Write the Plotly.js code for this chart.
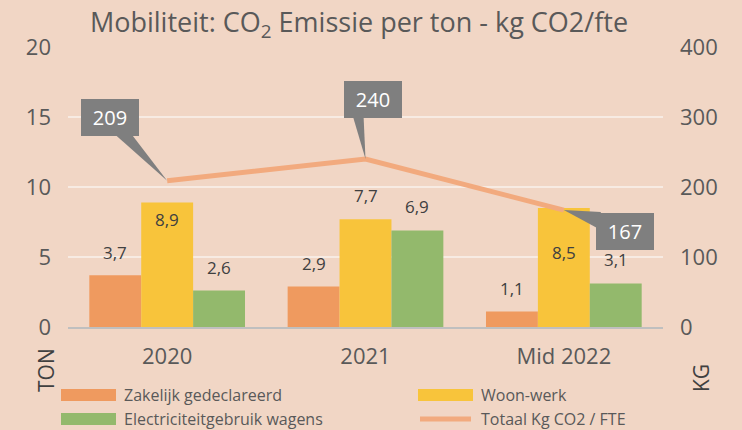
<!DOCTYPE html>
<html>
<head>
<meta charset="utf-8">
<script src="https://cdn.plot.ly/plotly-3.0.1.min.js"></script>
<style>
html,body{margin:0;padding:0;background:#F1D6C5;}
#chart{width:742px;height:430px;}
</style>
</head>
<body>
<div id="chart"></div>
<script>
// ---- data ----
const categories = ['2020', '2021', 'Mid 2022'];
const zakelijk = [3.7, 2.9, 1.1];
const woonWerk = [8.9, 7.7, 8.5];
const elektriciteit = [2.6, 6.9, 3.1];
const totaalKg = [209, 240, 167];
const seriesNames = ['Zakelijk gedeclareerd', 'Woon-werk', 'Electriciteitgebruik wagens', 'Totaal Kg CO2 / FTE'];
const yTickVals = [0, 5, 10, 15, 20];
const y2TickVals = [0, 100, 200, 300, 400];

// ---- style ----
const W = 742, H = 430;
const M = {l: 68, r: 79, t: 47, b: 103};
const plotW = W - M.l - M.r, plotH = H - M.t - M.b;
const bargap = 0.215;
const colors = ['#EF9A5F', '#F8C43B', '#93B96C', '#F2AA7E'];
const txt = '#595959';
const font = '"Open Sans", Lato, sans-serif';
const barPx = (plotW / categories.length) * (1 - bargap) / 3;
const fmt = v => v.toString().replace('.', ',');
const px2x = p => (p - M.l) / plotW;
const px2y = p => (H - M.b - p) / plotH;

const barSeries = [zakelijk, woonWerk, elektriciteit];
const traces = barSeries.map((vals, i) => ({
  type: 'bar', x: categories, y: vals, name: seriesNames[i],
  marker: {color: colors[i]}, showlegend: false, hoverinfo: 'skip'
}));
traces.push({
  type: 'scatter', mode: 'lines', x: categories, y: totaalKg, yaxis: 'y2',
  name: seriesNames[3], line: {color: colors[3], width: 5}, showlegend: false, hoverinfo: 'skip'
});

// label vertical shifts (pixels) per series / category; x given as category index
const labelShift = [[23, 23, 23], [-17, 24, -44], [23, 24, 24]];
const annotations = [];
barSeries.forEach((vals, i) => {
  vals.forEach((v, j) => {
    annotations.push({
      x: j, y: v, xref: 'x', yref: 'y', showarrow: false,
      xshift: (i - 1) * barPx, yshift: labelShift[i][j],
      text: fmt(v), font: {family: font, size: 17, color: '#404040'}
    });
  });
});

// callouts for total line
const calloutShift = [[-57, 63], [7, 60], [61, -21]];
const wedges = [
  'M0,0 L-53,47 L-36,47 Z',
  'M0,0 L-13,44 L-2,44 Z',
  'M0,0 L37,-2 L37,-20 Z'
];
const shapes = [];
totaalKg.forEach((v, j) => {
  annotations.push({
    x: j, y: v, xref: 'x', yref: 'y2', showarrow: false,
    xshift: calloutShift[j][0], yshift: calloutShift[j][1],
    width: 54, height: 33, bgcolor: '#7F7F7F', borderpad: 2, borderwidth: 0,
    text: String(v), font: {family: font, size: 20, color: '#FFFFFF'},
    align: 'center', valign: 'middle'
  });
  shapes.push({
    type: 'path', xref: 'x', yref: 'y2', xsizemode: 'pixel', ysizemode: 'pixel',
    xanchor: j, yanchor: v, path: wedges[j],
    fillcolor: '#7F7F7F', line: {width: 0}, layer: 'above'
  });
});

// axis titles placed under the plot like the reference
annotations.push({xref: 'paper', yref: 'paper', x: px2x(46), y: px2y(370), xanchor: 'center', yanchor: 'middle',
  text: 'TON', textangle: -90, showarrow: false, font: {family: font, size: 21, color: '#404040'}});
annotations.push({xref: 'paper', yref: 'paper', x: px2x(701), y: px2y(378), xanchor: 'center', yanchor: 'middle',
  text: 'KG', textangle: -90, showarrow: false, font: {family: font, size: 21, color: '#404040'}});

// custom legend
const legendPos = [[61, 395], [418, 395], [61, 419], [418, 419]];
seriesNames.forEach((name, i) => {
  const [lx, ly] = legendPos[i];
  if (i < 3) {
    shapes.push({type: 'rect', xref: 'paper', yref: 'paper',
      x0: px2x(lx), x1: px2x(lx + 55), y0: px2y(ly + 6), y1: px2y(ly - 6),
      fillcolor: colors[i], line: {width: 0}});
  } else {
    shapes.push({type: 'line', xref: 'paper', yref: 'paper',
      x0: px2x(lx + 2), x1: px2x(lx + 53), y0: px2y(ly), y1: px2y(ly),
      line: {color: colors[i], width: 5}});
  }
  annotations.push({xref: 'paper', yref: 'paper', x: px2x(lx + 61), y: px2y(ly),
    xanchor: 'left', yanchor: 'middle', showarrow: false, text: name,
    font: {family: font, size: 16, color: txt}});
});

const layout = {
  width: W, height: H, margin: M,
  paper_bgcolor: '#F1D6C5', plot_bgcolor: '#F1D6C5',
  font: {family: font, color: txt},
  title: {text: 'Mobiliteit: CO<sub>2</sub> Emissie per ton - kg CO2/fte',
    x: 359 / W, xanchor: 'center', xref: 'container', y: 1 - 23 / H, yanchor: 'middle', yref: 'container',
    font: {family: font, size: 27, color: txt}},
  barmode: 'group', bargap: bargap, bargroupgap: 0,
  xaxis: {type: 'category', range: [-0.5, categories.length - 0.5], autorange: false,
    tickfont: {family: font, size: 22, color: txt}, ticklabelstandoff: 9,
    showline: true, linecolor: '#BFBFBF', linewidth: 2, ticks: '', showgrid: false, fixedrange: true},
  yaxis: {range: [0, 20], autorange: false, tickvals: yTickVals, ticktext: yTickVals.map(String),
    tickfont: {family: font, size: 22, color: txt}, showgrid: true, gridcolor: '#F7EBE3', gridwidth: 2,
    zeroline: false, ticks: '', ticklabelstandoff: 16, fixedrange: true},
  yaxis2: {range: [0, 400], autorange: false, tickvals: y2TickVals, ticktext: y2TickVals.map(String), overlaying: 'y', side: 'right',
    tickfont: {family: font, size: 22, color: txt}, showgrid: false, zeroline: false, ticks: '',
    ticklabelstandoff: 16, fixedrange: true},
  annotations: annotations, shapes: shapes, showlegend: false
};

Plotly.newPlot('chart', traces, layout, {displayModeBar: false, staticPlot: true});
</script>
</body>
</html>
